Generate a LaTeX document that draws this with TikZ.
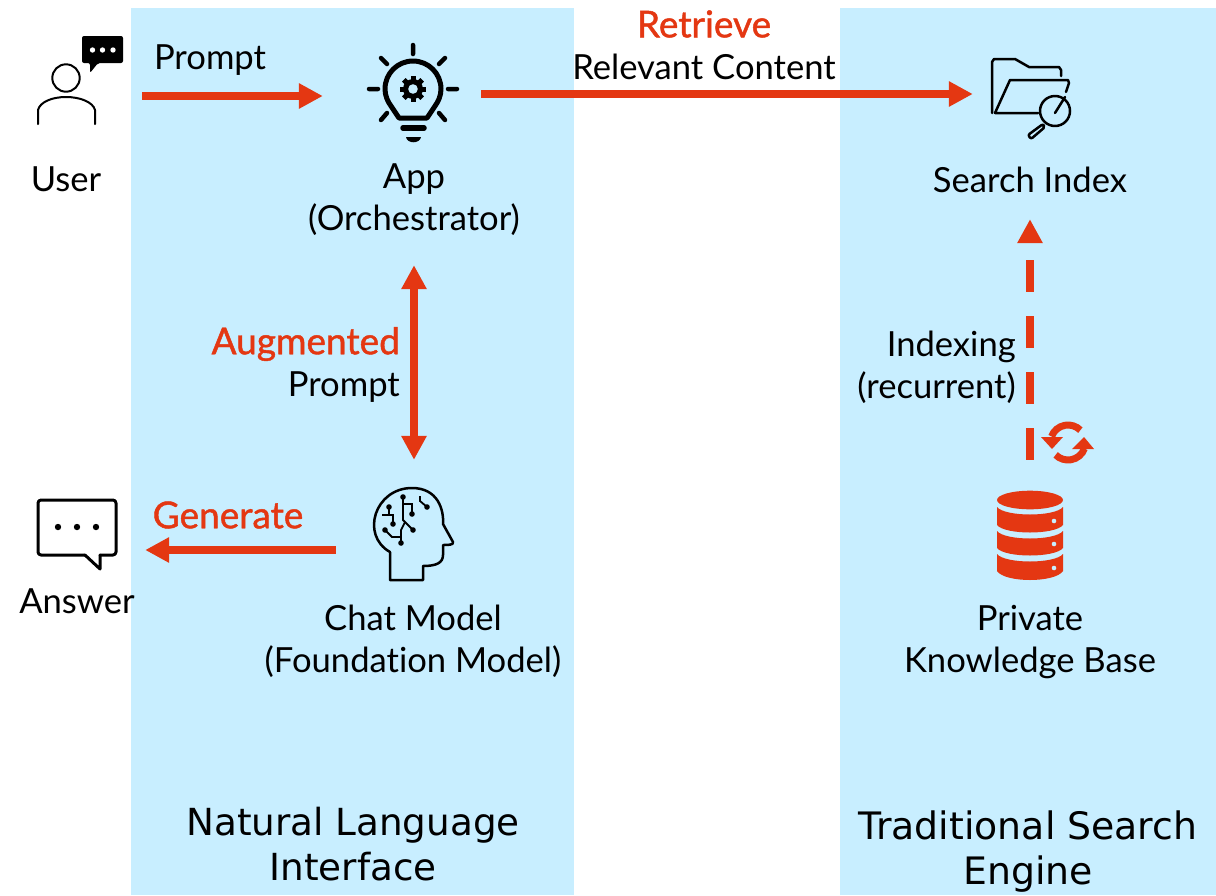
\documentclass[tikz,border=0pt]{standalone}
\usepackage{fontspec}
\setmainfont[Ligatures=NoCommon]{Lato}
\newfontfamily\titlefont{DejaVu Sans}
\newfontfamily\hotfont[FakeBold=1.2,Ligatures=NoCommon]{Lato}
\usepackage{xcolor}
\usetikzlibrary{arrows.meta}
\definecolor{panelblue}{HTML}{C8EEFF}
\definecolor{flowred}{HTML}{E43712}
\tikzset{
    panel/.style={fill=panelblue,draw=none},
    lbl/.style={align=center,font=\fontsize{34.6}{42}\selectfont,inner sep=0pt,text=black},
    hot/.style={lbl,text=flowred,font=\fontsize{37}{42}\selectfont\hotfont},
    paneltitle/.style={align=center,font=\fontsize{37.3}{45}\selectfont\titlefont,inner sep=0pt},
    iconbox/.style={inner sep=0pt,minimum width=#1,minimum height=80pt},
    flow/.style={draw=flowred,line width=8pt,-{Triangle[length=24pt,width=24pt]}},
    flowboth/.style={draw=flowred,line width=8pt,{Triangle[length=24pt,width=24pt]}-{Triangle[length=24pt,width=24pt]}},
    thin/.style={draw=black,line width=2pt,line cap=round,line join=round},
    thick/.style={draw=black,line width=3pt,line cap=round,line join=round}
}
\begin{document}
\begin{tikzpicture}[x=1pt,y=-1pt]
    \useasboundingbox (0,0) rectangle (1216,895);
    \fill[white] (0,0) rectangle (1216,895);
    \path[panel] (131,8) rectangle (574,895);
    \path[panel] (840,8) rectangle (1216,895);

    % icon holders
    \node[iconbox=152pt] (user) at (66,96) {};
    \node[iconbox=134pt] (app) at (414,94) {};
    \node[iconbox=114pt] (index) at (1030,94) {};
    \node[iconbox=156pt] (model) at (414,550) {};
    \node[iconbox=136pt] (answer) at (77,550) {};
    \node[iconbox=80pt] (base) at (1030,535) {};

    % user
    \draw[thin] (66,78) circle (13.7);
    \draw[thin] (38,124) -- (38,110) .. controls (40,102) and (52,97) .. (66,97) .. controls (80,97) and (93,102) .. (95,110) -- (95,124);
    \fill[black,rounded corners=2pt] (82,36) -- (123,36) -- (123,63) -- (98,63) -- (90,73) -- (90,63) -- (82,63) -- cycle;
    \foreach \x in {92.5,102.5,113} \fill[white] (\x,50) circle (2.7);

    % app
    \draw[black,line width=5pt,line join=round] (399,118) -- (391,106) .. controls (388,102) and (385,96) .. (385,89) .. controls (385,73.5) and (397.5,61) .. (413,61) .. controls (428.5,61) and (441,73.5) .. (441,89) .. controls (441,96) and (438,102) .. (435,106) -- (427,118) -- cycle;
    \draw[black,line width=5.5pt,line cap=round] (403,128) -- (424,128);
    \fill[black] (406,137) -- (421,137) .. controls (420,144) and (407,144) .. (406,137) -- cycle;
    \foreach \a in {0,45,...,315} \draw[black,line width=5pt] (413,89) -- ++(\a:13);
    \fill[black] (413,89) circle (10);
    \fill[panelblue] (413,89) circle (4.8);
    \draw[black,line width=4.5pt,line cap=round] (413,45) -- (413,54)
        (369,89) -- (378,89) (448,89) -- (457,89)
        (381,58) -- (387,64) (445,58) -- (439,64)
        (381,120) -- (387,113) (445,120) -- (439,113);

    % search index
    \draw[thin,line width=2.5pt] (992,113) -- (992,62) -- (994,59) -- (1015,59) -- (1029,67) -- (1059,67) -- (1061,70) -- (1061,76);
    \draw[thin,line width=2.5pt] (1066,92) -- (1069,83) -- (1068,80) -- (1010,80) -- (995,113) -- (1038,113);
    \draw[thin,line width=2.5pt] (1055,113) -- (1065,97);
    \draw[thin,line width=2.5pt] (1055,111) circle (15);
    \draw[thin,line width=2.5pt,rounded corners=2pt] (1043,124) -- (1028,135) -- (1031,139) -- (1045,127) -- cycle;

    % chat model
    \draw[thin,line width=2.5pt,line cap=butt] (390,580) -- (390,552) .. controls (360,535) and (375,488) .. (412,488) .. controls (438,488) and (444,510) .. (443,524) -- (453,542) .. controls (454,545) and (448,545) .. (443,545) -- (443,555) .. controls (443,563) and (436,566) .. (423,566) -- (423,580) -- cycle;
    \foreach \x/\y in {389/507,403/497,412/514,393/524,385/530,401/543,413/530,427/507} \fill[black] (\x,\y) circle (2.8);
    \draw[black,line width=1.8pt] (389,507) -- (389,515) (382,515) -- (393,515) -- (393,524);
    \draw[black,line width=1.8pt] (403,497) -- (403,520) -- (413,530);
    \draw[black,line width=1.8pt] (403,504) -- (412,504) -- (412,514);
    \draw[black,line width=1.8pt] (405,522) -- (401,530) -- (401,543);
    \draw[black,line width=1.8pt] (385,530) -- (392,537) -- (401,537);
    \draw[black,line width=1.8pt] (420,496) -- (420,501) -- (427,507);

    % answer
    \draw[thick,rounded corners=3pt] (100,555) -- (116,555) -- (116,500) -- (38,500) -- (38,555) -- (85,555);
    \draw[thick] (85,555) -- (100,569) -- (100,555);
    \foreach \x in {58,77,96} \fill[black] (\x,527) circle (3.2);

    % knowledge base
    \fill[flowred] (1030,500) ellipse (33 and 9.3);
    \fill[flowred] (997,507) .. controls (1005,517) and (1055,517) .. (1063,507) -- (1063,525) .. controls (1055,535) and (1005,535) .. (997,525) -- cycle;
    \fill[flowred] (997,531) .. controls (1005,541) and (1055,541) .. (1063,531) -- (1063,548) .. controls (1055,558) and (1005,558) .. (997,548) -- cycle;
    \fill[flowred] (997,554) .. controls (1005,564) and (1055,564) .. (1063,554) -- (1063,571) .. controls (1055,583) and (1005,583) .. (997,571) -- cycle;
    \foreach \y in {521,544,568} \fill[panelblue] (1054,\y) circle (2.3);

    % recurrent mark
    \draw[flowred,line width=7pt] (1068,442.5) ++(200:17.5) arc[start angle=200,end angle=315,radius=17.5];
    \draw[flowred,line width=7pt] (1068,442.5) ++(20:17.5) arc[start angle=20,end angle=135,radius=17.5];
    \fill[flowred] (1041,437) -- (1063,437) -- (1052,449) -- cycle;
    \fill[flowred] (1072,449) -- (1094,449) -- (1084,437) -- cycle;

    % connectors
    \draw[flow,shorten >=24pt] (user) -- (user -| app.west);
    \draw[flow] (app) -- (index);
    \draw[flow] (model) -- (answer);
    \draw[flowboth,shorten <=131pt,shorten >=50pt] (app) -- (model);
    \draw[flow,dash pattern=on 32pt off 24pt,shorten <=35pt,shorten >=85pt] (base) -- (index);

    % labels
    \node[lbl] (userlbl) at (66,179) {User};
    \node[lbl] (promptlbl) at (210,60) {Prompt};
    \node[lbl] (applbl) at (414,200) {App\\(Orchestrator)};
    \node[hot] (retrievelbl) at (704,24) {Retrieve};
    \node[lbl] (contentlbl) at (704,66.5) {Relevant Content};
    \node[lbl] (indexlbl) at (1030,180) {Search Index};
    \node[hot,anchor=east] (auglbl) at (400,344) {Augmented};
    \node[lbl,anchor=east] (auglbl2) at (400,387) {Prompt};
    \node[lbl,align=right,anchor=east] (indexinglbl) at (1016,367) {Indexing\\(recurrent)};
    \node[hot] (generatelbl) at (228,515) {Generate};
    \node[lbl] (answerlbl) at (77,601) {Answer};
    \node[lbl] (modellbl) at (413,641) {Chat Model\\(Foundation Model)};
    \node[lbl] (baselbl) at (1030,642) {Private\\Knowledge Base};
    \node[paneltitle] (nltitle) at (353,844) {Natural Language\\Interface};
    \node[paneltitle,font=\fontsize{37.8}{45}\selectfont\titlefont] (setitle) at (1028,852) {Traditional Search\\Engine};
\end{tikzpicture}
\end{document}
